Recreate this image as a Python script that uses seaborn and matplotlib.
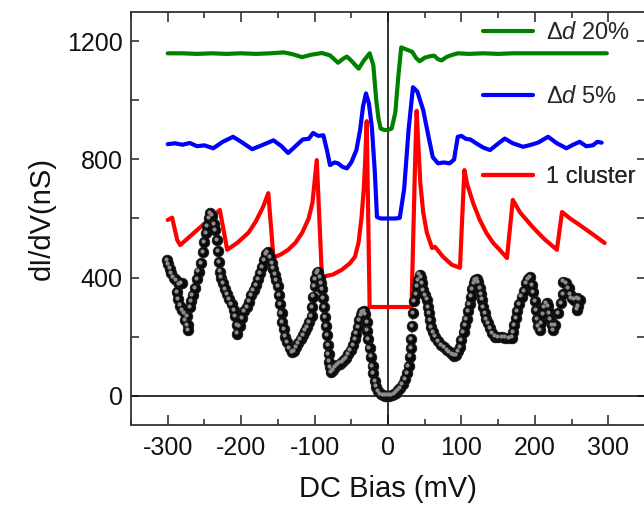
import numpy as np
import pandas as pd
import matplotlib
matplotlib.use("Agg")
import matplotlib.pyplot as plt
from matplotlib.ticker import MultipleLocator
from matplotlib.transforms import offset_copy
import seaborn as sns

# ---- measured dI/dV (black spheres) ----
exp_bias = [
    -301, -299, -297, -295, -292, -289, -285, -281, -287, -286, -283, -280, -277, -274,
    -276, -273, -272, -270, -268, -266, -263, -260, -258, -255, -252, -250, -248, -246,
    -244, -242, -240, -237, -235, -233, -231, -230, -229, -227, -225, -222, -219, -216,
    -213, -210, -208, -206, -205, -202, -199, -196, -192, -189, -186, -183, -180, -177,
    -174, -172, -169, -166, -164, -161, -158, -156, -154, -152, -150, -148, -147, -145,
    -144, -142, -140, -137, -134, -131, -128, -125, -122, -119, -116, -113, -110, -107,
    -104, -103, -102, -100, -99, -97, -95, -93, -91, -90, -88, -87, -86, -84, -83, -82,
    -81, -80, -79, -78, -75, -72, -69, -66, -63, -60, -57, -54, -51, -48, -45, -43, -41,
    -39, -37, -35, -33, -31, -29, -28, -27, -25, -23, -21, -20, -18, -16, -13, -10, -7,
    -4, -1, 2, 5, 8, 11, 14, 17, 20, 23, 26, 28, 30, 31, 32, 33, 34, 36, 38, 40, 41, 43,
    45, 46, 48, 50, 53, 55, 56, 57, 59, 61, 64, 68, 72, 76, 80, 84, 87, 90, 93, 96, 98,
    100, 103, 105, 107, 109, 111, 113, 115, 117, 119, 121, 123, 125, 127, 128, 130, 132,
    134, 136, 139, 142, 146, 150, 155, 160, 165, 169, 170, 172, 174, 176, 179, 182, 185,
    188, 191, 193, 196, 198, 200, 202, 203, 204, 207, 209, 211, 213, 216, 218, 220, 221,
    223, 225, 228, 232, 236, 238, 239, 243, 246, 248, 250, 253, 257, 261, 259, 257,
]
exp_didv = [
    460, 445, 430, 415, 400, 390, 378, 382, 350, 328, 305, 290, 280, 268,
    255, 238, 222, 300, 320, 340, 365, 395, 420, 450, 487, 520, 550, 575,
    600, 618, 610, 580, 560, 527, 490, 453, 420, 400, 380, 360, 345, 328,
    310, 290, 270, 240, 210, 235, 262, 285, 300, 318, 340, 358, 375, 395,
    415, 436, 460, 478, 487, 470, 450, 430, 410, 392, 370, 340, 310, 280,
    250, 225, 200, 180, 160, 148, 150, 165, 178, 192, 205, 220, 233, 250,
    268, 300, 335, 370, 395, 415, 420, 400, 380, 360, 330, 300, 265, 235, 205, 170,
    140, 115, 95, 78, 85, 95, 102, 108, 114, 120, 128, 140, 155, 172, 190, 210, 233,
    255, 272, 282, 287, 275, 250, 220, 190, 160, 132, 100, 75, 50, 30, 15, 6, 2,
    0, 0, 0, 2, 5, 10, 17, 26, 38, 55, 75, 100, 132, 160, 190, 235, 280, 320, 345, 370, 390, 410,
    400, 380, 358, 340, 325, 300, 280, 255, 233, 215, 200, 185, 172, 163, 155, 147, 140, 135, 138, 150, 165,
    189, 215, 240, 260, 285, 310, 335, 360, 382, 392, 395, 385, 365, 345, 325, 300, 280,
    260, 245, 228, 212, 200, 198, 197, 196, 194, 196, 215, 240, 262, 285, 310, 335, 355,
    380, 395, 402, 375, 350, 320, 290, 260, 234, 223, 245, 275, 300, 313, 302, 280, 260,
    240, 223, 240, 280, 313, 345, 386, 381, 365, 345, 330, 325, 330, 325, 302, 291,
]

# ---- simulated curves ----
d20_bias = [-300, -280, -260, -240, -220, -200, -180, -160, -142, -130, -117, -105, -90,
            -79, -68, -62, -56, -50, -40, -33, -25, -20, -16, -13, -10, -5, 0, 5, 10,
            14, 18, 23, 28, 33, 38, 43, 50, 57, 63, 68, 73, 80, 88, 95, 110, 130, 150,
            170, 200, 230, 260, 298]
d20_didv = [1160, 1160, 1158, 1160, 1158, 1160, 1158, 1160, 1163, 1157, 1147, 1155, 1161,
            1153, 1128, 1140, 1149, 1135, 1108, 1135, 1160, 1120, 1001, 940, 905, 900, 900, 905, 960,
            1080, 1180, 1175, 1170, 1165, 1145, 1133, 1145, 1150, 1152, 1140, 1136, 1148, 1155, 1160,
            1158, 1160, 1158, 1160, 1160, 1160, 1160, 1160]

d5_bias = [-300, -290, -280, -270, -260, -250, -238, -225, -211, -200, -185, -172, -156,
           -145, -136, -126, -116, -108, -102, -95, -88, -83, -79, -73, -68, -62, -56, -50,
           -43, -38, -34, -30, -26, -22, -18, -15, -10, 0, 10, 16, 22, 28, 34, 40, 48, 55,
           61, 68, 76, 84, 90, 95, 100, 106, 112, 120, 130, 139, 148, 159, 170, 184, 195,
           205, 218, 230, 243, 252, 261, 270, 279, 285, 291]
d5_didv = [852, 855, 850, 856, 845, 848, 838, 860, 877, 860, 835, 848, 865,
           845, 822, 845, 868, 870, 890, 880, 882, 830, 781, 790, 787, 775, 770, 790,
           832, 900, 980, 1024, 990, 910, 760, 605, 600, 600, 600, 602, 700, 900, 1045, 1030, 967, 880,
           808, 787, 790, 787, 800, 877, 880, 870, 868, 855, 840, 832, 850, 871, 855, 843, 850,
           858, 877, 855, 838, 850, 860, 845, 848, 860, 857]

c1_bias = [-300, -294, -287, -283, -229, -219, -205, -190, -180, -170, -163, -156, -146,
           -136, -126, -117, -108, -103, -97, -90, -75, -63, -52, -45, -40, -36, -33, -31,
           -29, -25, 0, 32, 34, 37, 39, 44, 48, 53, 60, 64, 75, 87, 98, 104, 108, 116, 125,
           134, 143, 152, 162, 170, 180, 197, 213, 230, 237, 248, 261, 278, 295]
c1_didv = [595, 603, 527, 510, 629, 494, 518, 552, 590, 640, 686, 467, 478,
           494, 518, 551, 600, 652, 798, 402, 410, 426, 448, 470, 520, 605, 700, 800,
           930, 300, 300, 300, 500, 800, 965, 720, 620, 551, 500, 504, 470, 443, 433, 764, 715, 652, 595,
           551, 518, 494, 466, 663, 620, 571, 530, 494, 622, 600, 578, 548, 517]

series_labels = [r"$\Delta\mathit{d}$ 20%", r"$\Delta\mathit{d}$ 5%", "1 cluster"]
x_ticks = [-300, -200, -100, 0, 100, 200, 300]
y_ticks = [0, 400, 800, 1200]

sns.set_theme(style="ticks")
plt.rcParams["font.family"] = ["Liberation Sans", "DejaVu Sans"]
plt.rcParams["mathtext.fontset"] = "custom"
plt.rcParams["mathtext.rm"] = "Liberation Sans"
plt.rcParams["mathtext.it"] = "Liberation Sans:italic"

fig = plt.figure(figsize=(6.44, 5.14), dpi=100)
ax = fig.add_axes([131 / 644, 89 / 514, 514 / 644, 413 / 514])

# reference lines through the origin
ax.axhline(0, color="#111111", lw=1.2, zorder=1)
ax.axvline(0, color="#111111", lw=1.2, zorder=1)

curves = [
    (d20_bias, d20_didv, "#008000", series_labels[0]),
    (d5_bias, d5_didv, "#0000ff", series_labels[1]),
    (c1_bias, c1_didv, "#ff0000", series_labels[2]),
]
handles = []
for i, (xb, yd, col, lab) in enumerate(curves):
    df = pd.DataFrame({"bias": xb, "didv": yd})
    sns.lineplot(data=df, x="bias", y="didv", sort=False, estimator=None,
                 color=col, lw=3.0, ax=ax, zorder=2 + i)
    handles.append(ax.lines[-1])

# experimental points: dotted trace plus shaded spheres
exp = pd.DataFrame({"bias": exp_bias, "didv": exp_didv})
ax.plot(exp["bias"], exp["didv"], color="black", lw=0.8, ls=(0, (2, 2)), zorder=5)
sns.scatterplot(data=exp, x="bias", y="didv", s=58, color="#0a0a0a",
                edgecolor="#1a1a1a", linewidth=0.6, ax=ax, zorder=6)
hl = offset_copy(ax.transData, fig=fig, x=-1.2, y=1.2, units="dots")
ax.scatter(exp["bias"], exp["didv"], s=9, color="#8c8c8c", linewidths=0,
           transform=hl, zorder=7)

ax.set_xlim(-350, 350)
ax.set_ylim(-100, 1300)
ax.set_xticks(x_ticks)
ax.set_xticklabels([str(t) for t in x_ticks])
ax.set_yticks(y_ticks)
ax.xaxis.set_minor_locator(MultipleLocator(50))
ax.yaxis.set_minor_locator(MultipleLocator(200))
ax.tick_params(axis="both", which="both", direction="in", top=True, right=True,
               color="#333333", labelsize=18, labelcolor="#111111")
ax.tick_params(axis="x", which="major", length=7, width=1.2, pad=8)
ax.tick_params(axis="x", which="minor", length=4, width=1.2)
ax.tick_params(axis="y", which="both", length=6, width=1.2, pad=6)
for sp in ax.spines.values():
    sp.set_color("#333333")
    sp.set_linewidth(1.3)

ax.set_xlabel("DC Bias (mV)", fontsize=21, color="#111111", labelpad=11)
ax.set_ylabel("dI/dV(nS)", fontsize=21, color="#111111", labelpad=8)

# one legend entry per curve, stacked on the right
legend_y = [0.949, 0.794, 0.600]
for h, lab, yy in zip(handles, series_labels, legend_y):
    leg = ax.legend([h], [lab], loc="center left", bbox_to_anchor=(0.685, yy),
                    frameon=False, fontsize=17, handlelength=2.1, handletextpad=0.55,
                    borderpad=0, borderaxespad=0)
    ax.add_artist(leg)

fig.savefig("out.png", dpi=100)
